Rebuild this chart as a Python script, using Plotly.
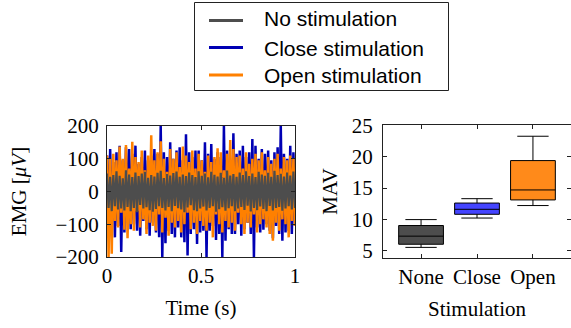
import plotly.graph_objects as go

# ---------------- data ----------------
series_names = ["No stimulation", "Close stimulation", "Open stimulation"]

emg_close = [110, -120, 130, -95, 90, -140, 120, -105, 140, -185, 95, -125,
             135, -90, 130, -115, 115, -100, 140, -120, 85, -135, 105, -90,
             125, -115, 95, -135, 110, -95, 130, -125, 115, -140, 200, -200,
             120, -158, 105, -120, 150, -130, 100, -140, 125, -110, 135, -140,
             95, -155, 175, -195, 120, -130, 105, -115, 125, -160, 125, -125,
             95, -120, 150, -200, 115, -120, 145, -105, 100, -148, 120, -130,
             105, -200, 200, -150, 125, -115, 95, -130, 178, -130, 115, -100,
             125, -135, 140, -115, 105, -95, 120, -130, 160, -200, 140, -110,
             100, -125, 130, -117, 115, -100, 125, -120, 95, -143, 120, -105,
             135, -130, 200, -150, 115, -125, 100, -120, 140, -130, 120, -105]

emg_open = [110, -200, 100, -190, 115, -90, 95, -110, 137, -65, 100, -117,
            142, -143, 70, -100, 152, -120, 105, -60, 90, -110, 125, -85,
            65, -130, 110, -95, 172, -105, 95, -120, 120, -70, 153, -125,
            100, -80, 60, -135, 130, -95, 100, -110, 120, -90, 75, -125,
            137, -100, 110, -65, 90, -115, 125, -95, 70, -130, 115, -90,
            95, -105, 60, -120, 110, -95, 90, -140, 105, -70, 132, -100,
            120, -125, 65, -90, 115, -110, 157, -95, 130, -120, 105, -65,
            110, -100, 70, -130, 120, -95, 85, -110, 100, -70, 115, -125,
            95, -100, 120, -85, 65, -110, 105, -130, 85, -150, 100, -95,
            115, -120, 70, -85, 105, -100, 95, -140, 110, -90, 100, -105]

emg_none = [55, -50, 45, -60, 50, -45, 62, -55, 48, -52, 40, -58,
            65, -47, 52, -60, 44, -50, 58, -63, 47, -41, 55, -52,
            60, -48, 42, -57, 50, -62, 46, -53, 57, -45, 63, -50,
            41, -58, 53, -47, 49, -60, 56, -44, 61, -51, 45, -55,
            52, -63, 47, -49, 58, -42, 50, -57, 44, -60, 62, -52,
            48, -46, 55, -58, 43, -50, 60, -45, 51, -62, 46, -54,
            57, -48, 42, -59, 64, -51, 49, -45, 53, -60, 45, -52,
            58, -47, 50, -56, 62, -43, 47, -61, 55, -50, 44, -57,
            60, -46, 52, -53, 48, -60, 57, -44, 45, -58, 63, -50,
            50, -47, 54, -59, 46, -52, 58, -45, 49, -55, 61, -50]

box_categories = ["None", "Close", "Open"]
mav_lower = [5.5, 10.2, 12.2]
mav_q1 = [6.0, 10.8, 13.1]
mav_median = [7.3, 11.6, 14.7]
mav_q3 = [9.0, 12.6, 19.4]
mav_upper = [9.95, 13.3, 23.3]

line_colors = ["#4d4d4d", "#0000b4", "#ff8000"]
box_fills = ["#4d4d4d", "#4444ff", "#ff8a1a"]


def sample_times(vals):
    n = len(vals)
    return [i / (n - 1) for i in range(n)]


# page body margin is removed (post_script below) -> figure fills the window
W, H = 571, 328


def px(x):
    return x / W


def py(y):
    return 1 - y / H


fig = go.Figure()

# drawing order: close (bottom), open, none (top)
for vals, name, color, w in [
    (emg_close, series_names[1], line_colors[1], 2.5),
    (emg_open, series_names[2], line_colors[2], 2.5),
    (emg_none, series_names[0], line_colors[0], 2.2),
]:
    fig.add_trace(go.Scatter(
        x=sample_times(vals), y=vals, mode="lines", name=name,
        line=dict(color=color, width=w), showlegend=False,
        xaxis="x", yaxis="y"))

for i, cat in enumerate(box_categories):
    fig.add_trace(go.Box(
        x=[cat], q1=[mav_q1[i]], median=[mav_median[i]], q3=[mav_q3[i]],
        lowerfence=[mav_lower[i]], upperfence=[mav_upper[i]],
        fillcolor=box_fills[i], line=dict(color="black", width=1),
        whiskerwidth=0.7, width=0.8, boxpoints=False, showlegend=False,
        xaxis="x2", yaxis="y2"))

# ---- legend box (drawn in paper coordinates) ----
shapes = [dict(type="rect", xref="paper", yref="paper",
               x0=px(194.5), x1=px(448.5), y0=py(90.5), y1=py(2.5),
               line=dict(color="#222", width=1), fillcolor="white", layer="above")]
annotations = []
legend_rows = [(series_names[0], line_colors[0], 20.5, 18),
               (series_names[1], line_colors[1], 47.5, 48),
               (series_names[2], line_colors[2], 75, 75)]
for name, color, ly, ty in legend_rows:
    shapes.append(dict(type="line", xref="paper", yref="paper",
                       x0=px(209), x1=px(243), y0=py(ly), y1=py(ly),
                       line=dict(color=color, width=3), layer="above"))
    annotations.append(dict(text=name, xref="paper", yref="paper",
                            x=px(262), y=py(ty), xanchor="left", yanchor="middle",
                            showarrow=False,
                            font=dict(family="Liberation Sans", size=21, color="black")))

axis_common = dict(showline=True, linecolor="#222", linewidth=1, mirror="ticks",
                   ticks="inside", ticklen=4, tickcolor="#222", showgrid=False,
                   zeroline=False, tickfont=dict(size=21, color="black"))

fig.update_layout(
    width=W, height=H,
    margin=dict(l=0, r=0, t=0, b=0, autoexpand=False),
    plot_bgcolor="white", paper_bgcolor="white",
    font=dict(family="Liberation Serif", size=21, color="black"),
    showlegend=False,
    shapes=shapes, annotations=annotations,
    xaxis=dict(domain=[px(107), px(295)], range=[0, 1], tickvals=[0, 0.5, 1],
               ticktext=["0", "0.5", "1"], ticklabelstandoff=0,
               title=dict(text="Time (s)", standoff=13, font=dict(size=21)),
               anchor="y", **axis_common),
    yaxis=dict(domain=[py(257), py(126)], range=[-200, 200],
               tickvals=[-200, -100, 0, 100, 200], ticklabelstandoff=3,
               title=dict(text="EMG [<i>μV</i>]", standoff=23, font=dict(size=21)),
               anchor="x", **axis_common),
    xaxis2=dict(domain=[px(383), 1.0], type="category", range=[-0.68, 2.68],
                categoryorder="array", categoryarray=box_categories,
                ticklabelstandoff=0,
                title=dict(text="Stimulation", standoff=13, font=dict(size=21)),
                anchor="y2", **axis_common),
    yaxis2=dict(domain=[py(258), py(125)], range=[3.8, 25.1],
                tickvals=[5, 10, 15, 20, 25], ticklabelstandoff=5,
                title=dict(text="MAV", standoff=8, font=dict(size=21)),
                anchor="x2", **axis_common),
)

fig.write_html("out.html",
               config={"displayModeBar": False},
               post_script="document.body.style.margin='0px';"
                           "document.body.style.overflow='hidden';")
